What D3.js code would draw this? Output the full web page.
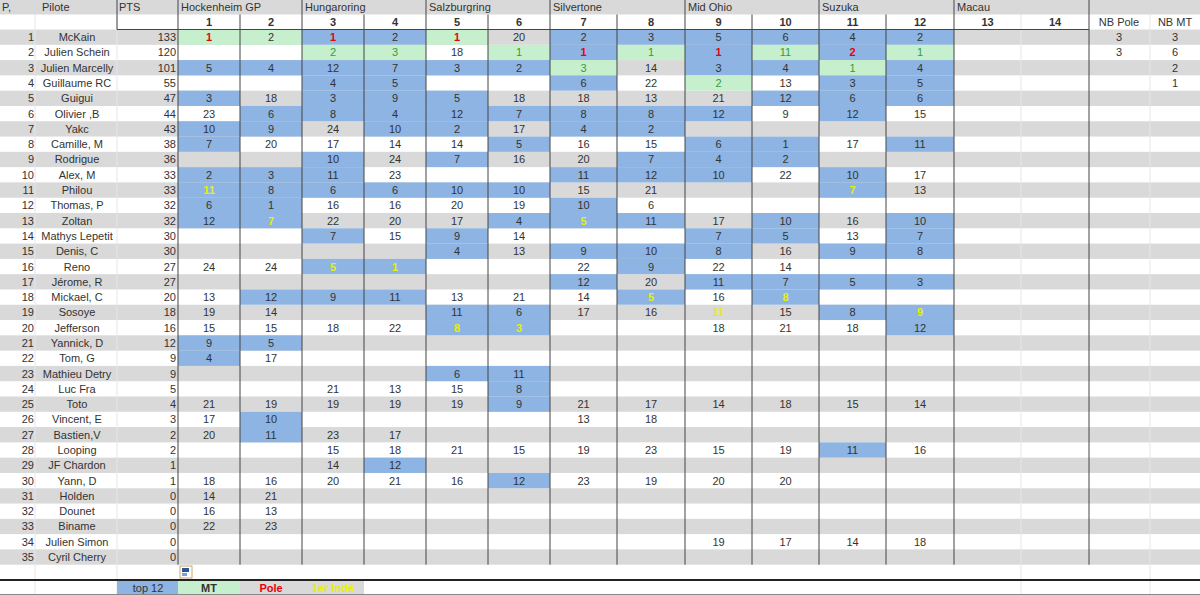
<!DOCTYPE html>
<html><head><meta charset="utf-8">
<script src="https://cdn.jsdelivr.net/npm/d3@7"></script>
<style>body{margin:0;background:#fff}svg{display:block;font-family:"Liberation Sans",Arial,sans-serif}</style>
</head><body><svg id="c" width="1200" height="595"></svg>
<script>
const races = ["Hockenheim GP","Hungaroring","Salzburgring","Silvertone","Mid Ohio","Suzuka","Macau"];
const raceNums = ["1","2","3","4","5","6","7","8","9","10","11","12","13","14"];
const pilots = ["McKain","Julien Schein","Julien Marcelly","Guillaume RC","Guigui","Olivier ,B","Yakc","Camille, M","Rodrigue","Alex, M","Philou","Thomas, P","Zoltan","Mathys Lepetit","Denis, C","Reno","Jérome, R","Mickael, C","Sosoye","Jefferson","Yannick, D","Tom, G","Mathieu Detry","Luc Fra","Toto","Vincent, E","Bastien,V","Looping","JF Chardon","Yann, D","Holden","Dounet","Biname","Julien Simon","Cyril Cherry"];
const points = [133,120,101,55,47,44,43,38,36,33,33,32,32,30,30,27,27,20,18,16,12,9,9,5,4,3,2,2,1,1,0,0,0,0,0];
// token: number + flags  B=blue cell, G=green cell, r=red text, y=yellow text, v=green text
const results = [
"1Gr 2G 1Br 2B 1Gr 20 2B 3B 5B 6B 4B 2B",
"- - 2Gv 3Gv 18 1Gv 1Br 1Gv 1Br 11Gv 2Br 1Gv",
"5B 4B 12B 7B 3B 2B 3Gv 14 3B 4B 1Gv 4B",
"- - 4B 5B - - 6B 22 2Gv 13 3B 5B",
"3B 18 3B 9B 5B 18 18 13 21 12B 6B 6B",
"23 6B 8B 4B 12B 7B 8B 8B 12B 9 12B 15",
"10B 9B 24 10B 2B 17 4B 2B - - - -",
"7B 20 17 14 14 5B 16 15 6B 1B 17 11B",
"- - 10B 24 7B 16 20 7B 4B 2B - -",
"2B 3B 11B 23 - - 11B 12B 10B 22 10B 17",
"11By 8B 6B 6B 10B 10B 15 21 - - 7By 13",
"6B 1B 16 16 20 19 10B 6 - - - -",
"12B 7By 22 20 17 4B 5By 11B 17 10B 16 10B",
"- - 7B 15 9B 14 - - 7B 5B 13 7B",
"- - - - 4B 13 9B 10B 8B 16 9B 8B",
"24 24 5By 1By - - 22 9B 22 14 - -",
"- - - - - - 12B 20 11B 7B 5B 3B",
"13 12B 9B 11B 13 21 14 5By 16 8By - -",
"19 14 - - 11B 6B 17 16 11y 15 8B 9By",
"15 15 18 22 8By 3By - - 18 21 18 12B",
"9B 5B - - - - - - - - - -",
"4B 17 - - - - - - - - - -",
"- - - - 6B 11B - - - - - -",
"- - 21 13 15 8B - - - - - -",
"21 19 19 19 19 9B 21 17 14 18 15 14",
"17 10B - - - - 13 18 - - - -",
"20 11B 23 17 - - - - - - - -",
"- - 15 18 21 15 19 23 15 19 11B 16",
"- - 14 12B - - - - - - - -",
"18 16 20 21 16 12B 23 19 20 20 - -",
"14 21 - - - - - - - - - -",
"16 13 - - - - - - - - - -",
"22 23 - - - - - - - - - -",
"- - - - - - - - 19 17 14 18",
"- - - - - - - - - - - -"];
const nbPole = ["3","3","","",""];
const nbMT = ["3","6","2","1",""];
const legendLabels = ["top 12","MT","Pole","1er Indé"];

const C = {blue:"#8db4e2",green:"#c6efce",grey:"#d9d9d9",text:"#333",red:"#e8000b",yellow:"#e6f000",gtext:"#3a9a3a",dark:"#444"};
const svg = d3.select("#c");
const bounds = [178,240,302,364,426,488,550,617,685,752,819,886,954,1021,1089];
const xRace = d3.scaleOrdinal().domain(d3.range(14)).range(bounds.slice(0,14));
const wRace = d3.scaleOrdinal().domain(d3.range(14)).range(d3.range(14).map(i=>bounds[i+1]-bounds[i]));
const y = d3.scaleLinear().domain([0,35]).range([29.5,564.7]); // row top for data rows
const rh = y(1)-y(0);

// header row background
svg.append("rect").attr("x",0).attr("y",0).attr("width",1200).attr("height",14.5).attr("fill",C.grey);
// stripes
const rowsIdx = d3.range(36);
svg.selectAll("rect.stripe").data(rowsIdx.filter(i=>i%2===0 && i<35)).join("rect")
  .attr("x",0).attr("y",i=>y(i)).attr("width",1200).attr("height",rh).attr("fill",C.grey);

// cells
const parsed = results.map(s=>s.split(" ").map(t=>{
  if(t==="-") return null;
  const m=t.match(/^(\d+)([A-Za-z]*)$/);
  return {v:m[1],f:m[2]};
}));
parsed.forEach((row,ri)=>{
  row.forEach((c,ci)=>{
    if(!c) return;
    const bg = c.f.includes("B")?C.blue:c.f.includes("G")?C.green:null;
    if(bg) svg.append("rect").attr("x",xRace(ci)).attr("y",y(ri)).attr("width",wRace(ci)).attr("height",rh).attr("fill",bg);
    const col = c.f.includes("r")?C.red:c.f.includes("y")?C.yellow:c.f.includes("v")?C.gtext:C.text;
    svg.append("text").attr("x",xRace(ci)+wRace(ci)/2).attr("y",y(ri)+rh/2+4).attr("text-anchor","middle")
      .attr("font-size",11).attr("fill",col).attr("font-weight",(c.f.match(/[ry]/))?"bold":null).text(c.v);
  });
});

// faint gridlines
[35,117,1021,1150].forEach(x=>svg.append("line").attr("x1",x).attr("x2",x).attr("y1",14.5).attr("y2",595).attr("stroke","#e6e6e6"));
// dark race separators
bounds.forEach((x,i)=>{ if(x===1021) return;
  svg.append("line").attr("x1",x).attr("x2",x).attr("y1",i===0||x===1089||[178,302,426,550,685,819,954].includes(x)?0:14.5).attr("y2",y(35)).attr("stroke",C.dark).attr("stroke-width",1);
});
svg.append("line").attr("x1",117).attr("x2",117).attr("y1",0).attr("y2",29.5).attr("stroke",C.dark);
svg.append("line").attr("x1",117).attr("x2",1089).attr("y1",29.5).attr("y2",29.5).attr("stroke",C.dark);

// header texts
const ht = (x,yy,t,opt={})=>svg.append("text").attr("x",x).attr("y",yy).attr("font-size",11).attr("fill",C.text)
  .attr("text-anchor",opt.a||"start").attr("font-weight",opt.b?"bold":null).text(t);
ht(2,11,"P,"); ht(42,11,"Pilote"); ht(119,11,"PTS");
races.forEach((r,i)=>ht(xRace(i*2)+3,11,r));
raceNums.forEach((n,i)=>ht(xRace(i)+wRace(i)/2,26,n,{a:"middle",b:true}));
ht(1119,26,"NB Pole",{a:"middle"}); ht(1175,26,"NB MT",{a:"middle"});

// left columns
pilots.forEach((p,i)=>{
  const cy=y(i)+rh/2+4;
  ht(34,cy,String(i+1),{a:"end"});
  ht(77,cy,p,{a:"middle"});
  ht(176,cy,String(points[i]),{a:"end"});
});
nbPole.forEach((v,i)=>v&&ht(1119,y(i)+rh/2+4,v,{a:"middle"}));
nbMT.forEach((v,i)=>v&&ht(1175,y(i)+rh/2+4,v,{a:"middle"}));

// paste icon
const ic = svg.append("g").attr("transform","translate(180,566)");
ic.append("rect").attr("width",12).attr("height",12).attr("fill","#fff").attr("stroke","#c9a86a");
ic.append("rect").attr("x",2).attr("y",2).attr("width",7).attr("height",4).attr("fill","#2b579a");
ic.append("rect").attr("x",2).attr("y",7).attr("width",5).attr("height",3).attr("fill","#7f9fd0");

// legend
svg.append("line").attr("x1",0).attr("x2",1200).attr("y1",580).attr("y2",580).attr("stroke","#222").attr("stroke-width",2);
svg.append("line").attr("x1",0).attr("x2",1200).attr("y1",594.5).attr("y2",594.5).attr("stroke","#888");
const lgBg=[C.blue,C.green,C.grey,C.grey], lgTx=[C.text,C.text,C.red,C.yellow], lgX=[117,178,240,302];
legendLabels.forEach((l,i)=>{
  svg.append("rect").attr("x",lgX[i]).attr("y",581).attr("width",62).attr("height",13).attr("fill",lgBg[i]);
  svg.append("text").attr("x",lgX[i]+31).attr("y",591.5).attr("text-anchor","middle").attr("font-size",11)
    .attr("font-weight",i>0?"bold":null).attr("fill",lgTx[i]).text(l);
});
</script></body></html>
